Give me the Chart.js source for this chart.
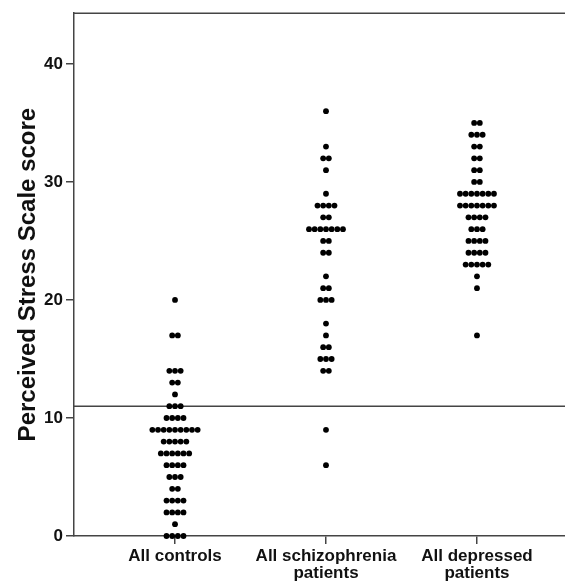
<!DOCTYPE html>
<html>
<head>
<meta charset="utf-8">
<script src="https://cdn.jsdelivr.net/npm/chart.js@4"></script>
<style>
  html, body { margin: 0; padding: 0; background: #fff; }
  #wrap { width: 565px; height: 581px; }
</style>
</head>
<body>
<div id="wrap"><canvas id="dots"></canvas></div>
<script>
'use strict'

const categories = [['All controls'], ['All schizophrenia', 'patients'], ['All depressed', 'patients']]

// score value -> how many people had it
const controlScores = [20, 17, 14, 13, 12, 11, 10, 9, 8, 7, 6, 5, 4, 3, 2, 1, 0]
const controlCounts = [1, 2, 3, 2, 1, 3, 4, 9, 5, 6, 4, 3, 2, 4, 4, 1, 4]

const schizoScores = [36, 33, 32, 31, 29, 28, 27, 26, 25, 24, 22, 21, 20, 18, 17, 16, 15, 14, 9, 6]
const schizoCounts = [1, 1, 2, 1, 1, 4, 2, 7, 2, 2, 1, 2, 3, 1, 1, 2, 3, 2, 1, 1]

const depressedScores = [35, 34, 33, 32, 31, 30, 29, 28, 27, 26, 25, 24, 23, 22, 21, 17]
const depressedCounts = [2, 3, 2, 2, 2, 2, 7, 7, 4, 3, 4, 4, 5, 1, 1, 1]

const yTicks = [0, 10, 20, 30, 40]
const cutoff = 11

const xMin = 0.331
const xMax = 3.583
const dotStep = 0.0375   // sideways gap between stacked dots, in category units

const swarm = (pos, scores, counts) => {
  let pts = []
  scores.forEach((s, k) => {
    const n = counts[k]
    for (let i = 0; i < n; i++) {
      pts.push({ x: pos + (i - (n - 1) / 2) * dotStep, y: s })
    }
  })
  return pts
}

const axisColor = '#444'
const textColor = '#111'
const fontFam = "'Liberation Sans', Arial, sans-serif"

const topBorder = {
  id: 'topBorder',
  afterDraw(chart) {
    const { ctx, chartArea: a } = chart
    ctx.save()
    ctx.strokeStyle = axisColor
    ctx.lineWidth = 1.5
    ctx.beginPath()
    ctx.moveTo(a.left, a.top)
    ctx.lineTo(a.right, a.top)
    ctx.stroke()
    ctx.restore()
  }
}

const dotStyle = {
  type: 'scatter',
  pointRadius: 2.9,
  pointHoverRadius: 2.9,
  backgroundColor: '#000',
  borderWidth: 0,
  clip: false
}

const data = {
  datasets: [
    { ...dotStyle, label: 'All controls', data: swarm(1, controlScores, controlCounts) },
    { ...dotStyle, label: 'All schizophrenia patients', data: swarm(2, schizoScores, schizoCounts) },
    { ...dotStyle, label: 'All depressed patients', data: swarm(3, depressedScores, depressedCounts) },
    {
      type: 'line',
      label: 'cutoff',
      data: [{ x: xMin, y: cutoff }, { x: xMax, y: cutoff }],
      borderColor: axisColor,
      borderWidth: 1.5,
      pointRadius: 0,
      fill: false
    }
  ]
}

const config = {
  type: 'scatter',
  data: data,
  plugins: [topBorder],
  options: {
    responsive: true,
    maintainAspectRatio: false,
    animation: false,
    events: [],
    layout: { autoPadding: false, padding: { top: 12, left: 0, right: 0, bottom: 0 } },
    plugins: { legend: { display: false }, tooltip: { enabled: false } },
    scales: {
      x: {
        type: 'linear',
        min: xMin,
        max: xMax,
        afterBuildTicks: (scale) => { scale.ticks = [1, 2, 3].map(v => ({ value: v })) },
        afterFit: (scale) => { scale.height = 45 },
        grid: { drawOnChartArea: false, drawTicks: true, tickLength: 8, color: axisColor, lineWidth: 1.5 },
        border: { display: true, color: axisColor, width: 1.5 },
        ticks: {
          autoSkip: false,
          maxRotation: 0,
          padding: 3,
          color: textColor,
          font: { family: fontFam, size: 17, weight: 'bold', lineHeight: 1.05 },
          callback: (v) => categories[Math.round(v) - 1]
        }
      },
      y: {
        min: 0,
        max: 44.3,
        afterBuildTicks: (scale) => { scale.ticks = yTicks.map(v => ({ value: v })) },
        afterFit: (scale) => { scale.width = 74 },
        grid: { drawOnChartArea: false, drawTicks: true, tickLength: 8, color: axisColor, lineWidth: 1.5 },
        border: { display: true, color: axisColor, width: 1.5 },
        ticks: {
          padding: 3,
          color: textColor,
          font: { family: fontFam, size: 17, weight: 'bold' }
        },
        title: {
          display: true,
          text: 'Perceived Stress Scale score',
          color: textColor,
          font: { family: fontFam, size: 24, weight: 'bold' },
          padding: { top: 14, bottom: 0 }
        }
      }
    }
  }
}

let dots = new Chart(document.querySelector('#dots'), config)
</script>
</body>
</html>
